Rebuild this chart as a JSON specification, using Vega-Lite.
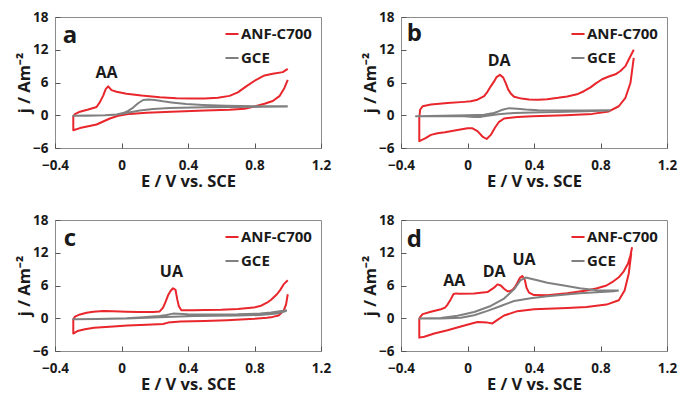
{
  "$schema": "https://vega.github.io/schema/vega-lite/v6.json",
  "padding": {"left": 16, "top": 9, "right": 0, "bottom": 0},
  "background": "white",
  "config": {
    "font": "Open Sans",
    "view": {"stroke": "#8c8c8c", "strokeWidth": 1},
    "axis": {
      "domain": false,
      "grid": false,
      "tickSize": -5,
      "tickColor": "#555555",
      "tickWidth": 1,
      "labelFont": "Open Sans",
      "labelFontSize": 13.5,
      "labelFontWeight": "bold",
      "labelColor": "#1a1a1a",
      "titleFont": "Open Sans",
      "titleFontSize": 16.5,
      "titleFontWeight": "bold",
      "titleColor": "#1a1a1a"
    },
    "axisX": {"labelPadding": 15, "titlePadding": 2},
    "axisY": {"labelPadding": 12, "titlePadding": 0},
    "legend": {
      "orient": "top-right",
      "offset": 9,
      "padding": 0,
      "labelFont": "Open Sans",
      "labelFontSize": 15,
      "labelFontWeight": "bold",
      "labelColor": "#1a1a1a",
      "labelOffset": 1,
      "symbolType": "stroke",
      "symbolStrokeWidth": 2,
      "symbolSize": 170,
      "rowPadding": 8
    }
  },
  "datasets": {
    "cv": [
      {"p":"a","s":"ANF-C700","i":1,"E":1.0,"j":8.5},{"p":"a","s":"ANF-C700","i":2,"E":0.97,"j":7.9},{"p":"a","s":"ANF-C700","i":3,"E":0.91,"j":7.6},{"p":"a","s":"ANF-C700","i":4,"E":0.86,"j":7.3},{"p":"a","s":"ANF-C700","i":5,"E":0.81,"j":6.5},{"p":"a","s":"ANF-C700","i":6,"E":0.75,"j":5.3},{"p":"a","s":"ANF-C700","i":7,"E":0.7,"j":4.2},{"p":"a","s":"ANF-C700","i":8,"E":0.65,"j":3.55},{"p":"a","s":"ANF-C700","i":9,"E":0.58,"j":3.2},{"p":"a","s":"ANF-C700","i":10,"E":0.5,"j":3.08},{"p":"a","s":"ANF-C700","i":11,"E":0.42,"j":3.05},{"p":"a","s":"ANF-C700","i":12,"E":0.33,"j":3.1},{"p":"a","s":"ANF-C700","i":13,"E":0.23,"j":3.3},{"p":"a","s":"ANF-C700","i":14,"E":0.12,"j":3.6},{"p":"a","s":"ANF-C700","i":15,"E":0.03,"j":3.95},{"p":"a","s":"ANF-C700","i":16,"E":-0.03,"j":4.3},{"p":"a","s":"ANF-C700","i":17,"E":-0.06,"j":4.6},{"p":"a","s":"ANF-C700","i":18,"E":-0.08,"j":5.3},{"p":"a","s":"ANF-C700","i":19,"E":-0.095,"j":4.8},{"p":"a","s":"ANF-C700","i":20,"E":-0.11,"j":3.6},{"p":"a","s":"ANF-C700","i":21,"E":-0.13,"j":2.4},{"p":"a","s":"ANF-C700","i":22,"E":-0.15,"j":1.5},{"p":"a","s":"ANF-C700","i":23,"E":-0.2,"j":1.05},{"p":"a","s":"ANF-C700","i":24,"E":-0.25,"j":0.65},{"p":"a","s":"ANF-C700","i":25,"E":-0.28,"j":0.2},{"p":"a","s":"ANF-C700","i":26,"E":-0.29,"j":-0.2},{"p":"a","s":"ANF-C700","i":27,"E":-0.29,"j":-2.75},{"p":"a","s":"ANF-C700","i":28,"E":-0.25,"j":-2.35},{"p":"a","s":"ANF-C700","i":29,"E":-0.2,"j":-2.0},{"p":"a","s":"ANF-C700","i":30,"E":-0.15,"j":-1.7},{"p":"a","s":"ANF-C700","i":31,"E":-0.11,"j":-1.15},{"p":"a","s":"ANF-C700","i":32,"E":-0.07,"j":-0.6},{"p":"a","s":"ANF-C700","i":33,"E":-0.02,"j":-0.1},{"p":"a","s":"ANF-C700","i":34,"E":0.05,"j":0.25},{"p":"a","s":"ANF-C700","i":35,"E":0.15,"j":0.45},{"p":"a","s":"ANF-C700","i":36,"E":0.3,"j":0.65},{"p":"a","s":"ANF-C700","i":37,"E":0.5,"j":0.85},{"p":"a","s":"ANF-C700","i":38,"E":0.65,"j":1.0},{"p":"a","s":"ANF-C700","i":39,"E":0.74,"j":1.2},{"p":"a","s":"ANF-C700","i":40,"E":0.8,"j":1.6},{"p":"a","s":"ANF-C700","i":41,"E":0.86,"j":2.1},{"p":"a","s":"ANF-C700","i":42,"E":0.91,"j":2.6},{"p":"a","s":"ANF-C700","i":43,"E":0.95,"j":3.5},{"p":"a","s":"ANF-C700","i":44,"E":0.98,"j":5.0},{"p":"a","s":"ANF-C700","i":45,"E":1.0,"j":6.5},

      {"p":"a","s":"GCE","i":1,"E":1.0,"j":1.65},{"p":"a","s":"GCE","i":2,"E":0.83,"j":1.65},{"p":"a","s":"GCE","i":3,"E":0.63,"j":1.75},{"p":"a","s":"GCE","i":4,"E":0.49,"j":1.9},{"p":"a","s":"GCE","i":5,"E":0.39,"j":2.05},{"p":"a","s":"GCE","i":6,"E":0.3,"j":2.35},{"p":"a","s":"GCE","i":7,"E":0.25,"j":2.55},{"p":"a","s":"GCE","i":8,"E":0.2,"j":2.8},{"p":"a","s":"GCE","i":9,"E":0.16,"j":2.9},{"p":"a","s":"GCE","i":10,"E":0.13,"j":2.8},{"p":"a","s":"GCE","i":11,"E":0.1,"j":2.2},{"p":"a","s":"GCE","i":12,"E":0.07,"j":1.4},{"p":"a","s":"GCE","i":13,"E":0.04,"j":0.8},{"p":"a","s":"GCE","i":14,"E":0.01,"j":0.4},{"p":"a","s":"GCE","i":15,"E":-0.03,"j":0.15},{"p":"a","s":"GCE","i":16,"E":-0.1,"j":0.0},{"p":"a","s":"GCE","i":17,"E":-0.2,"j":-0.05},{"p":"a","s":"GCE","i":18,"E":-0.29,"j":-0.1},{"p":"a","s":"GCE","i":19,"E":-0.2,"j":-0.08},{"p":"a","s":"GCE","i":20,"E":-0.1,"j":-0.02},{"p":"a","s":"GCE","i":21,"E":-0.04,"j":0.1},{"p":"a","s":"GCE","i":22,"E":0.02,"j":0.35},{"p":"a","s":"GCE","i":23,"E":0.07,"j":0.65},{"p":"a","s":"GCE","i":24,"E":0.11,"j":0.85},{"p":"a","s":"GCE","i":25,"E":0.19,"j":1.15},{"p":"a","s":"GCE","i":26,"E":0.29,"j":1.35},{"p":"a","s":"GCE","i":27,"E":0.5,"j":1.45},{"p":"a","s":"GCE","i":28,"E":0.7,"j":1.5},{"p":"a","s":"GCE","i":29,"E":0.85,"j":1.55},{"p":"a","s":"GCE","i":30,"E":1.0,"j":1.6},

      {"p":"b","s":"ANF-C700","i":1,"E":1.0,"j":12.0},{"p":"b","s":"ANF-C700","i":2,"E":0.97,"j":10.2},{"p":"b","s":"ANF-C700","i":3,"E":0.95,"j":9.0},{"p":"b","s":"ANF-C700","i":4,"E":0.92,"j":8.1},{"p":"b","s":"ANF-C700","i":5,"E":0.89,"j":7.5},{"p":"b","s":"ANF-C700","i":6,"E":0.85,"j":7.1},{"p":"b","s":"ANF-C700","i":7,"E":0.81,"j":6.6},{"p":"b","s":"ANF-C700","i":8,"E":0.77,"j":5.8},{"p":"b","s":"ANF-C700","i":9,"E":0.74,"j":5.1},{"p":"b","s":"ANF-C700","i":10,"E":0.7,"j":4.4},{"p":"b","s":"ANF-C700","i":11,"E":0.665,"j":3.9},{"p":"b","s":"ANF-C700","i":12,"E":0.6,"j":3.45},{"p":"b","s":"ANF-C700","i":13,"E":0.545,"j":3.2},{"p":"b","s":"ANF-C700","i":14,"E":0.48,"j":2.95},{"p":"b","s":"ANF-C700","i":15,"E":0.425,"j":2.85},{"p":"b","s":"ANF-C700","i":16,"E":0.37,"j":2.9},{"p":"b","s":"ANF-C700","i":17,"E":0.325,"j":3.05},{"p":"b","s":"ANF-C700","i":18,"E":0.28,"j":3.4},{"p":"b","s":"ANF-C700","i":19,"E":0.26,"j":4.0},{"p":"b","s":"ANF-C700","i":20,"E":0.245,"j":4.7},{"p":"b","s":"ANF-C700","i":21,"E":0.23,"j":5.9},{"p":"b","s":"ANF-C700","i":22,"E":0.215,"j":6.9},{"p":"b","s":"ANF-C700","i":23,"E":0.195,"j":7.4},{"p":"b","s":"ANF-C700","i":24,"E":0.175,"j":7.0},{"p":"b","s":"ANF-C700","i":25,"E":0.16,"j":6.2},{"p":"b","s":"ANF-C700","i":26,"E":0.14,"j":5.3},{"p":"b","s":"ANF-C700","i":27,"E":0.12,"j":4.3},{"p":"b","s":"ANF-C700","i":28,"E":0.1,"j":3.5},{"p":"b","s":"ANF-C700","i":29,"E":0.06,"j":2.85},{"p":"b","s":"ANF-C700","i":30,"E":0.02,"j":2.55},{"p":"b","s":"ANF-C700","i":31,"E":-0.02,"j":2.45},{"p":"b","s":"ANF-C700","i":32,"E":-0.12,"j":2.25},{"p":"b","s":"ANF-C700","i":33,"E":-0.22,"j":1.95},{"p":"b","s":"ANF-C700","i":34,"E":-0.27,"j":1.65},{"p":"b","s":"ANF-C700","i":35,"E":-0.285,"j":1.0},{"p":"b","s":"ANF-C700","i":36,"E":-0.29,"j":-0.5},{"p":"b","s":"ANF-C700","i":37,"E":-0.29,"j":-4.75},{"p":"b","s":"ANF-C700","i":38,"E":-0.28,"j":-4.6},{"p":"b","s":"ANF-C700","i":39,"E":-0.255,"j":-4.25},{"p":"b","s":"ANF-C700","i":40,"E":-0.22,"j":-3.6},{"p":"b","s":"ANF-C700","i":41,"E":-0.18,"j":-3.3},{"p":"b","s":"ANF-C700","i":42,"E":-0.135,"j":-3.1},{"p":"b","s":"ANF-C700","i":43,"E":-0.06,"j":-2.7},{"p":"b","s":"ANF-C700","i":44,"E":0.0,"j":-2.4},{"p":"b","s":"ANF-C700","i":45,"E":0.03,"j":-2.4},{"p":"b","s":"ANF-C700","i":46,"E":0.06,"j":-2.9},{"p":"b","s":"ANF-C700","i":47,"E":0.09,"j":-3.9},{"p":"b","s":"ANF-C700","i":48,"E":0.115,"j":-4.35},{"p":"b","s":"ANF-C700","i":49,"E":0.14,"j":-3.6},{"p":"b","s":"ANF-C700","i":50,"E":0.165,"j":-2.3},{"p":"b","s":"ANF-C700","i":51,"E":0.19,"j":-1.2},{"p":"b","s":"ANF-C700","i":52,"E":0.22,"j":-0.6},{"p":"b","s":"ANF-C700","i":53,"E":0.3,"j":-0.3},{"p":"b","s":"ANF-C700","i":54,"E":0.39,"j":-0.2},{"p":"b","s":"ANF-C700","i":55,"E":0.59,"j":0.0},{"p":"b","s":"ANF-C700","i":56,"E":0.75,"j":0.25},{"p":"b","s":"ANF-C700","i":57,"E":0.85,"j":0.7},{"p":"b","s":"ANF-C700","i":58,"E":0.91,"j":1.65},{"p":"b","s":"ANF-C700","i":59,"E":0.95,"j":3.2},{"p":"b","s":"ANF-C700","i":60,"E":0.98,"j":5.9},{"p":"b","s":"ANF-C700","i":61,"E":1.0,"j":10.5},

      {"p":"b","s":"GCE","i":1,"E":0.86,"j":0.9},{"p":"b","s":"GCE","i":2,"E":0.7,"j":0.85},{"p":"b","s":"GCE","i":3,"E":0.59,"j":0.85},{"p":"b","s":"GCE","i":4,"E":0.425,"j":0.9},{"p":"b","s":"GCE","i":5,"E":0.35,"j":1.05},{"p":"b","s":"GCE","i":6,"E":0.3,"j":1.2},{"p":"b","s":"GCE","i":7,"E":0.25,"j":1.3},{"p":"b","s":"GCE","i":8,"E":0.21,"j":1.0},{"p":"b","s":"GCE","i":9,"E":0.185,"j":0.7},{"p":"b","s":"GCE","i":10,"E":0.15,"j":0.35},{"p":"b","s":"GCE","i":11,"E":0.1,"j":0.1},{"p":"b","s":"GCE","i":12,"E":0.0,"j":0.0},{"p":"b","s":"GCE","i":13,"E":-0.15,"j":-0.1},{"p":"b","s":"GCE","i":14,"E":-0.31,"j":-0.2},{"p":"b","s":"GCE","i":15,"E":-0.15,"j":-0.2},{"p":"b","s":"GCE","i":16,"E":-0.02,"j":-0.2},{"p":"b","s":"GCE","i":17,"E":0.04,"j":-0.3},{"p":"b","s":"GCE","i":18,"E":0.08,"j":-0.3},{"p":"b","s":"GCE","i":19,"E":0.12,"j":-0.1},{"p":"b","s":"GCE","i":20,"E":0.185,"j":0.2},{"p":"b","s":"GCE","i":21,"E":0.28,"j":0.4},{"p":"b","s":"GCE","i":22,"E":0.45,"j":0.55},{"p":"b","s":"GCE","i":23,"E":0.6,"j":0.65},{"p":"b","s":"GCE","i":24,"E":0.86,"j":0.85},

      {"p":"c","s":"ANF-C700","i":1,"E":1.0,"j":6.95},{"p":"c","s":"ANF-C700","i":2,"E":0.975,"j":6.2},{"p":"c","s":"ANF-C700","i":3,"E":0.955,"j":5.2},{"p":"c","s":"ANF-C700","i":4,"E":0.935,"j":4.4},{"p":"c","s":"ANF-C700","i":5,"E":0.9,"j":3.4},{"p":"c","s":"ANF-C700","i":6,"E":0.875,"j":2.85},{"p":"c","s":"ANF-C700","i":7,"E":0.84,"j":2.3},{"p":"c","s":"ANF-C700","i":8,"E":0.795,"j":1.95},{"p":"c","s":"ANF-C700","i":9,"E":0.7,"j":1.7},{"p":"c","s":"ANF-C700","i":10,"E":0.6,"j":1.55},{"p":"c","s":"ANF-C700","i":11,"E":0.5,"j":1.5},{"p":"c","s":"ANF-C700","i":12,"E":0.435,"j":1.45},{"p":"c","s":"ANF-C700","i":13,"E":0.36,"j":1.45},{"p":"c","s":"ANF-C700","i":14,"E":0.345,"j":2.2},{"p":"c","s":"ANF-C700","i":15,"E":0.335,"j":3.5},{"p":"c","s":"ANF-C700","i":16,"E":0.325,"j":5.2},{"p":"c","s":"ANF-C700","i":17,"E":0.31,"j":5.5},{"p":"c","s":"ANF-C700","i":18,"E":0.295,"j":5.0},{"p":"c","s":"ANF-C700","i":19,"E":0.28,"j":4.2},{"p":"c","s":"ANF-C700","i":20,"E":0.265,"j":3.0},{"p":"c","s":"ANF-C700","i":21,"E":0.25,"j":1.95},{"p":"c","s":"ANF-C700","i":22,"E":0.23,"j":1.25},{"p":"c","s":"ANF-C700","i":23,"E":0.19,"j":1.15},{"p":"c","s":"ANF-C700","i":24,"E":0.1,"j":1.15},{"p":"c","s":"ANF-C700","i":25,"E":0.03,"j":1.2},{"p":"c","s":"ANF-C700","i":26,"E":-0.05,"j":1.3},{"p":"c","s":"ANF-C700","i":27,"E":-0.11,"j":1.35},{"p":"c","s":"ANF-C700","i":28,"E":-0.17,"j":1.2},{"p":"c","s":"ANF-C700","i":29,"E":-0.21,"j":1.0},{"p":"c","s":"ANF-C700","i":30,"E":-0.25,"j":0.7},{"p":"c","s":"ANF-C700","i":31,"E":-0.28,"j":0.3},{"p":"c","s":"ANF-C700","i":32,"E":-0.29,"j":-0.2},{"p":"c","s":"ANF-C700","i":33,"E":-0.29,"j":-2.8},{"p":"c","s":"ANF-C700","i":34,"E":-0.265,"j":-2.35},{"p":"c","s":"ANF-C700","i":35,"E":-0.22,"j":-2.0},{"p":"c","s":"ANF-C700","i":36,"E":-0.165,"j":-1.75},{"p":"c","s":"ANF-C700","i":37,"E":-0.05,"j":-1.5},{"p":"c","s":"ANF-C700","i":38,"E":0.035,"j":-1.35},{"p":"c","s":"ANF-C700","i":39,"E":0.15,"j":-1.2},{"p":"c","s":"ANF-C700","i":40,"E":0.25,"j":-1.05},{"p":"c","s":"ANF-C700","i":41,"E":0.28,"j":-0.8},{"p":"c","s":"ANF-C700","i":42,"E":0.355,"j":-0.6},{"p":"c","s":"ANF-C700","i":43,"E":0.5,"j":-0.5},{"p":"c","s":"ANF-C700","i":44,"E":0.635,"j":-0.35},{"p":"c","s":"ANF-C700","i":45,"E":0.8,"j":-0.1},{"p":"c","s":"ANF-C700","i":46,"E":0.875,"j":0.1},{"p":"c","s":"ANF-C700","i":47,"E":0.91,"j":0.25},{"p":"c","s":"ANF-C700","i":48,"E":0.945,"j":0.5},{"p":"c","s":"ANF-C700","i":49,"E":0.975,"j":1.35},{"p":"c","s":"ANF-C700","i":50,"E":0.99,"j":2.55},{"p":"c","s":"ANF-C700","i":51,"E":1.0,"j":4.4},

      {"p":"c","s":"GCE","i":1,"E":0.995,"j":1.45},{"p":"c","s":"GCE","i":2,"E":0.9,"j":1.05},{"p":"c","s":"GCE","i":3,"E":0.835,"j":0.85},{"p":"c","s":"GCE","i":4,"E":0.7,"j":0.72},{"p":"c","s":"GCE","i":5,"E":0.5,"j":0.7},{"p":"c","s":"GCE","i":6,"E":0.4,"j":0.72},{"p":"c","s":"GCE","i":7,"E":0.31,"j":0.85},{"p":"c","s":"GCE","i":8,"E":0.27,"j":0.6},{"p":"c","s":"GCE","i":9,"E":0.23,"j":0.4},{"p":"c","s":"GCE","i":10,"E":0.13,"j":0.2},{"p":"c","s":"GCE","i":11,"E":0.03,"j":0.0},{"p":"c","s":"GCE","i":12,"E":-0.15,"j":-0.15},{"p":"c","s":"GCE","i":13,"E":-0.29,"j":-0.2},{"p":"c","s":"GCE","i":14,"E":-0.15,"j":-0.15},{"p":"c","s":"GCE","i":15,"E":0.03,"j":-0.05},{"p":"c","s":"GCE","i":16,"E":0.23,"j":0.2},{"p":"c","s":"GCE","i":17,"E":0.435,"j":0.4},{"p":"c","s":"GCE","i":18,"E":0.7,"j":0.5},{"p":"c","s":"GCE","i":19,"E":0.835,"j":0.6},{"p":"c","s":"GCE","i":20,"E":0.935,"j":0.85},{"p":"c","s":"GCE","i":21,"E":0.995,"j":1.35},

      {"p":"d","s":"ANF-C700","i":1,"E":0.99,"j":13.0},{"p":"d","s":"ANF-C700","i":2,"E":0.98,"j":11.5},{"p":"d","s":"ANF-C700","i":3,"E":0.965,"j":10.0},{"p":"d","s":"ANF-C700","i":4,"E":0.94,"j":8.6},{"p":"d","s":"ANF-C700","i":5,"E":0.91,"j":7.5},{"p":"d","s":"ANF-C700","i":6,"E":0.87,"j":6.6},{"p":"d","s":"ANF-C700","i":7,"E":0.836,"j":6.0},{"p":"d","s":"ANF-C700","i":8,"E":0.78,"j":5.5},{"p":"d","s":"ANF-C700","i":9,"E":0.716,"j":5.1},{"p":"d","s":"ANF-C700","i":10,"E":0.6,"j":4.6},{"p":"d","s":"ANF-C700","i":11,"E":0.48,"j":4.2},{"p":"d","s":"ANF-C700","i":12,"E":0.4,"j":4.25},{"p":"d","s":"ANF-C700","i":13,"E":0.37,"j":4.7},{"p":"d","s":"ANF-C700","i":14,"E":0.355,"j":5.6},{"p":"d","s":"ANF-C700","i":15,"E":0.345,"j":7.0},{"p":"d","s":"ANF-C700","i":16,"E":0.33,"j":7.75},{"p":"d","s":"ANF-C700","i":17,"E":0.315,"j":7.4},{"p":"d","s":"ANF-C700","i":18,"E":0.3,"j":6.5},{"p":"d","s":"ANF-C700","i":19,"E":0.285,"j":5.7},{"p":"d","s":"ANF-C700","i":20,"E":0.27,"j":5.2},{"p":"d","s":"ANF-C700","i":21,"E":0.255,"j":4.95},{"p":"d","s":"ANF-C700","i":22,"E":0.24,"j":4.95},{"p":"d","s":"ANF-C700","i":23,"E":0.22,"j":5.4},{"p":"d","s":"ANF-C700","i":24,"E":0.2,"j":6.0},{"p":"d","s":"ANF-C700","i":25,"E":0.18,"j":6.2},{"p":"d","s":"ANF-C700","i":26,"E":0.16,"j":5.6},{"p":"d","s":"ANF-C700","i":27,"E":0.12,"j":4.8},{"p":"d","s":"ANF-C700","i":28,"E":0.04,"j":4.55},{"p":"d","s":"ANF-C700","i":29,"E":-0.05,"j":4.5},{"p":"d","s":"ANF-C700","i":30,"E":-0.07,"j":4.55},{"p":"d","s":"ANF-C700","i":31,"E":-0.085,"j":4.4},{"p":"d","s":"ANF-C700","i":32,"E":-0.1,"j":3.5},{"p":"d","s":"ANF-C700","i":33,"E":-0.12,"j":2.5},{"p":"d","s":"ANF-C700","i":34,"E":-0.135,"j":1.95},{"p":"d","s":"ANF-C700","i":35,"E":-0.16,"j":1.65},{"p":"d","s":"ANF-C700","i":36,"E":-0.22,"j":1.2},{"p":"d","s":"ANF-C700","i":37,"E":-0.27,"j":0.75},{"p":"d","s":"ANF-C700","i":38,"E":-0.285,"j":0.2},{"p":"d","s":"ANF-C700","i":39,"E":-0.29,"j":-0.2},{"p":"d","s":"ANF-C700","i":40,"E":-0.29,"j":-3.55},{"p":"d","s":"ANF-C700","i":41,"E":-0.26,"j":-3.4},{"p":"d","s":"ANF-C700","i":42,"E":-0.2,"j":-2.8},{"p":"d","s":"ANF-C700","i":43,"E":-0.12,"j":-2.2},{"p":"d","s":"ANF-C700","i":44,"E":-0.04,"j":-1.5},{"p":"d","s":"ANF-C700","i":45,"E":0.02,"j":-1.0},{"p":"d","s":"ANF-C700","i":46,"E":0.06,"j":-0.7},{"p":"d","s":"ANF-C700","i":47,"E":0.12,"j":-0.8},{"p":"d","s":"ANF-C700","i":48,"E":0.15,"j":-0.95},{"p":"d","s":"ANF-C700","i":49,"E":0.18,"j":-0.3},{"p":"d","s":"ANF-C700","i":50,"E":0.22,"j":0.5},{"p":"d","s":"ANF-C700","i":51,"E":0.3,"j":1.3},{"p":"d","s":"ANF-C700","i":52,"E":0.4,"j":1.65},{"p":"d","s":"ANF-C700","i":53,"E":0.48,"j":1.75},{"p":"d","s":"ANF-C700","i":54,"E":0.6,"j":1.9},{"p":"d","s":"ANF-C700","i":55,"E":0.716,"j":2.05},{"p":"d","s":"ANF-C700","i":56,"E":0.836,"j":2.5},{"p":"d","s":"ANF-C700","i":57,"E":0.91,"j":3.3},{"p":"d","s":"ANF-C700","i":58,"E":0.945,"j":5.1},{"p":"d","s":"ANF-C700","i":59,"E":0.97,"j":8.2},{"p":"d","s":"ANF-C700","i":60,"E":0.985,"j":11.9},

      {"p":"d","s":"GCE","i":1,"E":0.91,"j":5.1},{"p":"d","s":"GCE","i":2,"E":0.78,"j":5.15},{"p":"d","s":"GCE","i":3,"E":0.675,"j":5.5},{"p":"d","s":"GCE","i":4,"E":0.58,"j":6.0},{"p":"d","s":"GCE","i":5,"E":0.48,"j":6.5},{"p":"d","s":"GCE","i":6,"E":0.42,"j":6.95},{"p":"d","s":"GCE","i":7,"E":0.35,"j":7.45},{"p":"d","s":"GCE","i":8,"E":0.32,"j":7.0},{"p":"d","s":"GCE","i":9,"E":0.28,"j":5.3},{"p":"d","s":"GCE","i":10,"E":0.22,"j":3.6},{"p":"d","s":"GCE","i":11,"E":0.14,"j":2.25},{"p":"d","s":"GCE","i":12,"E":0.04,"j":1.15},{"p":"d","s":"GCE","i":13,"E":-0.06,"j":0.45},{"p":"d","s":"GCE","i":14,"E":-0.16,"j":0.05},{"p":"d","s":"GCE","i":15,"E":-0.29,"j":-0.05},{"p":"d","s":"GCE","i":16,"E":-0.16,"j":-0.05},{"p":"d","s":"GCE","i":17,"E":-0.04,"j":0.1},{"p":"d","s":"GCE","i":18,"E":0.04,"j":0.55},{"p":"d","s":"GCE","i":19,"E":0.12,"j":1.35},{"p":"d","s":"GCE","i":20,"E":0.2,"j":2.25},{"p":"d","s":"GCE","i":21,"E":0.28,"j":3.15},{"p":"d","s":"GCE","i":22,"E":0.38,"j":3.65},{"p":"d","s":"GCE","i":23,"E":0.48,"j":4.05},{"p":"d","s":"GCE","i":24,"E":0.675,"j":4.6},{"p":"d","s":"GCE","i":25,"E":0.88,"j":4.95},{"p":"d","s":"GCE","i":26,"E":0.91,"j":5.1}
    ],
    "peaks": [
      {"p":"a","t":"AA","E":-0.09,"j":7.7},
      {"p":"b","t":"DA","E":0.19,"j":9.9},
      {"p":"c","t":"UA","E":0.3,"j":8.4},
      {"p":"d","t":"AA","E":-0.08,"j":6.8},
      {"p":"d","t":"DA","E":0.16,"j":8.5},
      {"p":"d","t":"UA","E":0.34,"j":10.6}
    ],
    "tags": [
      {"p":"a","t":"a","E":-0.31,"j":14.6},
      {"p":"b","t":"b","E":-0.32,"j":14.9},
      {"p":"c","t":"c","E":-0.31,"j":14.6},
      {"p":"d","t":"d","E":-0.32,"j":14.4}
    ]
  },
  "columns": 2,
  "spacing": {"row": 21, "column": 30},
  "resolve": {"scale": {"color": "independent"}, "legend": {"color": "independent"}},
  "concat": [
    {
      "width": 266, "height": 131,
      "layer": [
        {
          "data": {"name": "cv"},
          "transform": [{"filter": "datum.p === 'a'"}],
          "mark": {"type": "line", "strokeWidth": 2, "strokeJoin": "round"},
          "encoding": {
            "x": {"field": "E", "type": "quantitative", "scale": {"domain": [-0.4, 1.2], "nice": false, "zero": false}, "axis": {"values": [-0.4, 0, 0.4, 0.8, 1.2], "tickCount": 10, "format": "~g", "labelFlush": false, "labelOverlap": false, "title": "E / V vs. SCE"}},
            "y": {"field": "j", "type": "quantitative", "scale": {"domain": [-6, 18], "nice": false, "zero": false}, "axis": {"values": [-6, 0, 6, 12, 18], "tickCount": 10, "labelFlush": false, "labelOverlap": false, "title": "j / Am⁻²"}},
            "color": {"field": "s", "type": "nominal", "scale": {"domain": ["ANF-C700", "GCE"], "range": ["#e8262b", "#808080"]}, "legend": {"title": null}},
            "detail": {"field": "s"},
            "order": {"field": "i", "type": "quantitative"}
          }
        },
        {
          "data": {"name": "peaks"},
          "transform": [{"filter": "datum.p === 'a'"}],
          "mark": {"type": "text", "font": "Open Sans", "fontSize": 16, "fontWeight": "bold", "color": "#1a1a1a"},
          "encoding": {"x": {"field": "E", "type": "quantitative"}, "y": {"field": "j", "type": "quantitative"}, "text": {"field": "t"}}
        },
        {
          "data": {"name": "tags"},
          "transform": [{"filter": "datum.p === 'a'"}],
          "mark": {"type": "text", "font": "Open Sans", "fontSize": 24, "fontWeight": "bold", "color": "#1a1a1a"},
          "encoding": {"x": {"field": "E", "type": "quantitative"}, "y": {"field": "j", "type": "quantitative"}, "text": {"field": "t"}}
        }
      ]
    },
    {
      "width": 266, "height": 131,
      "layer": [
        {
          "data": {"name": "cv"},
          "transform": [{"filter": "datum.p === 'b'"}],
          "mark": {"type": "line", "strokeWidth": 2, "strokeJoin": "round"},
          "encoding": {
            "x": {"field": "E", "type": "quantitative", "scale": {"domain": [-0.4, 1.2], "nice": false, "zero": false}, "axis": {"values": [-0.4, 0, 0.4, 0.8, 1.2], "tickCount": 10, "format": "~g", "labelFlush": false, "labelOverlap": false, "title": "E / V vs. SCE"}},
            "y": {"field": "j", "type": "quantitative", "scale": {"domain": [-6, 18], "nice": false, "zero": false}, "axis": {"values": [-6, 0, 6, 12, 18], "tickCount": 10, "labelFlush": false, "labelOverlap": false, "title": "j / Am⁻²"}},
            "color": {"field": "s", "type": "nominal", "scale": {"domain": ["ANF-C700", "GCE"], "range": ["#e8262b", "#808080"]}, "legend": {"title": null}},
            "detail": {"field": "s"},
            "order": {"field": "i", "type": "quantitative"}
          }
        },
        {
          "data": {"name": "peaks"},
          "transform": [{"filter": "datum.p === 'b'"}],
          "mark": {"type": "text", "font": "Open Sans", "fontSize": 16, "fontWeight": "bold", "color": "#1a1a1a"},
          "encoding": {"x": {"field": "E", "type": "quantitative"}, "y": {"field": "j", "type": "quantitative"}, "text": {"field": "t"}}
        },
        {
          "data": {"name": "tags"},
          "transform": [{"filter": "datum.p === 'b'"}],
          "mark": {"type": "text", "font": "Open Sans", "fontSize": 24, "fontWeight": "bold", "color": "#1a1a1a"},
          "encoding": {"x": {"field": "E", "type": "quantitative"}, "y": {"field": "j", "type": "quantitative"}, "text": {"field": "t"}}
        }
      ]
    },
    {
      "width": 266, "height": 131,
      "layer": [
        {
          "data": {"name": "cv"},
          "transform": [{"filter": "datum.p === 'c'"}],
          "mark": {"type": "line", "strokeWidth": 2, "strokeJoin": "round"},
          "encoding": {
            "x": {"field": "E", "type": "quantitative", "scale": {"domain": [-0.4, 1.2], "nice": false, "zero": false}, "axis": {"values": [-0.4, 0, 0.4, 0.8, 1.2], "tickCount": 10, "format": "~g", "labelFlush": false, "labelOverlap": false, "title": "E / V vs. SCE"}},
            "y": {"field": "j", "type": "quantitative", "scale": {"domain": [-6, 18], "nice": false, "zero": false}, "axis": {"values": [-6, 0, 6, 12, 18], "tickCount": 10, "labelFlush": false, "labelOverlap": false, "title": "j / Am⁻²"}},
            "color": {"field": "s", "type": "nominal", "scale": {"domain": ["ANF-C700", "GCE"], "range": ["#e8262b", "#808080"]}, "legend": {"title": null}},
            "detail": {"field": "s"},
            "order": {"field": "i", "type": "quantitative"}
          }
        },
        {
          "data": {"name": "peaks"},
          "transform": [{"filter": "datum.p === 'c'"}],
          "mark": {"type": "text", "font": "Open Sans", "fontSize": 16, "fontWeight": "bold", "color": "#1a1a1a"},
          "encoding": {"x": {"field": "E", "type": "quantitative"}, "y": {"field": "j", "type": "quantitative"}, "text": {"field": "t"}}
        },
        {
          "data": {"name": "tags"},
          "transform": [{"filter": "datum.p === 'c'"}],
          "mark": {"type": "text", "font": "Open Sans", "fontSize": 24, "fontWeight": "bold", "color": "#1a1a1a"},
          "encoding": {"x": {"field": "E", "type": "quantitative"}, "y": {"field": "j", "type": "quantitative"}, "text": {"field": "t"}}
        }
      ]
    },
    {
      "width": 266, "height": 131,
      "layer": [
        {
          "data": {"name": "cv"},
          "transform": [{"filter": "datum.p === 'd'"}],
          "mark": {"type": "line", "strokeWidth": 2, "strokeJoin": "round"},
          "encoding": {
            "x": {"field": "E", "type": "quantitative", "scale": {"domain": [-0.4, 1.2], "nice": false, "zero": false}, "axis": {"values": [-0.4, 0, 0.4, 0.8, 1.2], "tickCount": 10, "format": "~g", "labelFlush": false, "labelOverlap": false, "title": "E / V vs. SCE"}},
            "y": {"field": "j", "type": "quantitative", "scale": {"domain": [-6, 18], "nice": false, "zero": false}, "axis": {"values": [-6, 0, 6, 12, 18], "tickCount": 10, "labelFlush": false, "labelOverlap": false, "title": "j / Am⁻²"}},
            "color": {"field": "s", "type": "nominal", "scale": {"domain": ["ANF-C700", "GCE"], "range": ["#e8262b", "#808080"]}, "legend": {"title": null}},
            "detail": {"field": "s"},
            "order": {"field": "i", "type": "quantitative"}
          }
        },
        {
          "data": {"name": "peaks"},
          "transform": [{"filter": "datum.p === 'd'"}],
          "mark": {"type": "text", "font": "Open Sans", "fontSize": 16, "fontWeight": "bold", "color": "#1a1a1a"},
          "encoding": {"x": {"field": "E", "type": "quantitative"}, "y": {"field": "j", "type": "quantitative"}, "text": {"field": "t"}}
        },
        {
          "data": {"name": "tags"},
          "transform": [{"filter": "datum.p === 'd'"}],
          "mark": {"type": "text", "font": "Open Sans", "fontSize": 24, "fontWeight": "bold", "color": "#1a1a1a"},
          "encoding": {"x": {"field": "E", "type": "quantitative"}, "y": {"field": "j", "type": "quantitative"}, "text": {"field": "t"}}
        }
      ]
    }
  ]
}
